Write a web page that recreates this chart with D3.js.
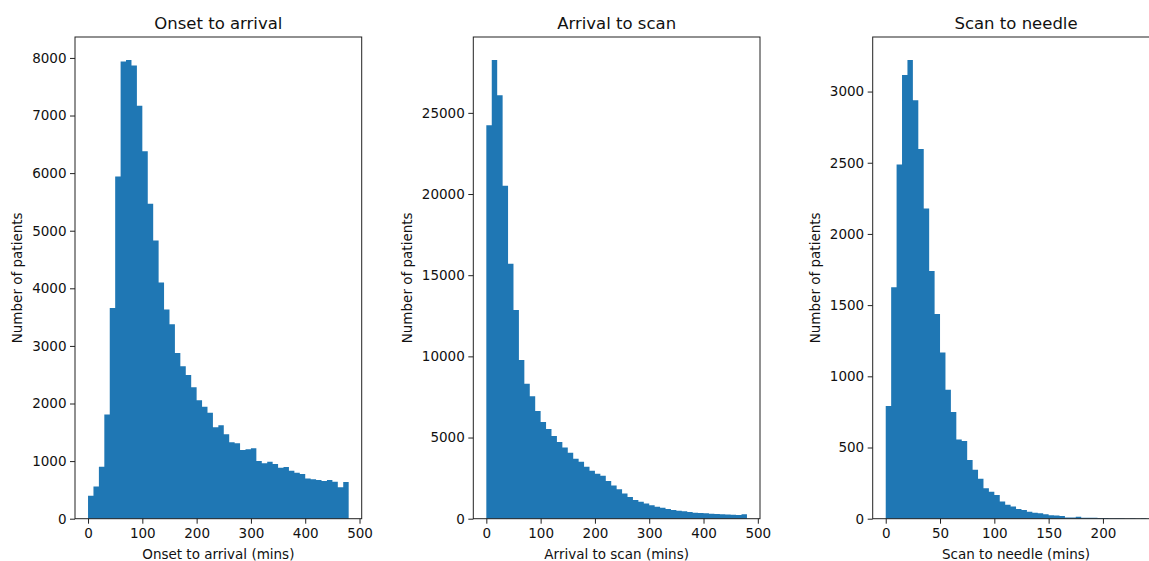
<!DOCTYPE html>
<html lang="en">
<head>
<meta charset="utf-8">
<title>Stroke pathway times</title>
<script src="https://cdn.jsdelivr.net/npm/d3@7"></script>
<style>
  body { margin: 0; background: #fff; }
  svg { display: block; overflow: hidden; }
  text { font-family: "DejaVu Sans", sans-serif; fill: #111; }
  .tick line { stroke: #222; }
  .tick text { font-size: 13.5px; fill: #111; }
  .frame { fill: none; stroke: #222; stroke-width: 1; }
</style>
</head>
<body>
<div id="chart"></div>
<script>
// histogram counts (48 bins each)
var onsetCounts = [400, 560, 900, 1810, 3660, 5940, 7940, 7965, 7870, 7170,
  6380, 5470, 4830, 4100, 3630, 3375, 2877, 2645, 2495, 2281,
  2055, 1945, 1840, 1586, 1621, 1465, 1326, 1309, 1192, 1204,
  1221, 1001, 961, 990, 949, 886, 897, 834, 799, 776,
  700, 683, 671, 654, 671, 643, 544, 637];
var arrivalCounts = [24240, 28260, 26090, 20510, 15700, 12850, 9770, 8320, 7540, 6630,
  5955, 5520, 5090, 4720, 4390, 4070, 3700, 3510, 3200, 2960,
  2770, 2640, 2330, 2040, 1815, 1560, 1340, 1150, 1047, 935,
  830, 730, 678, 590, 534, 493, 452, 411, 370, 349,
  329, 308, 287, 267, 262, 246, 226, 267];
var scanCounts = [791, 1625, 2487, 3117, 3222, 2939, 2597, 2178, 1740, 1437,
  1167, 906, 749, 556, 545, 413, 343, 280, 214, 189,
  166, 121, 98, 86, 69, 61, 48, 41, 38, 32,
  25, 22, 19, 8, 8, 14, 7, 6, 6, 5,
  5, 4, 3, 3, 2, 3, 2, 3];

var binWidths = [10, 10, 5]; // minutes per bin
var titles = ["Onset to arrival", "Arrival to scan", "Scan to needle"];
var xLabels = ["Onset to arrival (mins)", "Arrival to scan (mins)", "Scan to needle (mins)"];
var yLabel = "Number of patients";
var xTicks = [[0, 100, 200, 300, 400, 500], [0, 100, 200, 300, 400, 500], [0, 50, 100, 150, 200]];
var yTicks = [[0, 1000, 2000, 3000, 4000, 5000, 6000, 7000, 8000],
  [0, 5000, 10000, 15000, 20000, 25000],
  [0, 500, 1000, 1500, 2000, 2500, 3000]];

var width = 1149, height = 561;
var panelLeft = [75, 473.3, 872.7],
    panelW = 286.7,
    panelTop = 37,
    panelBottom = 518.7,
    panelH = panelBottom - panelTop;
var yLabelX = [17, 407, 815];

var svg = d3.select("#chart")
  .append("svg")
  .attr("width", width)
  .attr("height", height);

var allCounts = [onsetCounts, arrivalCounts, scanCounts];

allCounts.forEach(function(counts, p) {
  var bw = binWidths[p];
  var xmax = counts.length * bw;
  // step points: one per bin edge, last one closes the final bin
  var steps = counts.map(function(c, i) { return {x: i * bw, n: c}; });
  steps.push({x: xmax, n: counts[counts.length - 1]});
  var pad = xmax * 0.05;
  var ymax = d3.max(counts) * 1.05;

  var x = d3.scaleLinear().domain([-pad, xmax + pad]).range([0, panelW]);
  var y = d3.scaleLinear().domain([0, ymax]).range([panelH, 0]);

  var g = svg.append("g").attr("transform", "translate(" + panelLeft[p] + "," + panelTop + ")");

  var area = d3.area()
    .curve(d3.curveStepAfter)
    .x(function(d) { return x(d.x); })
    .y0(y(0))
    .y1(function(d) { return y(d.n); });

  g.append("path")
    .datum(steps)
    .attr("d", area)
    .attr("fill", "#1f77b4");

  var xa = g.append("g")
    .attr("transform", "translate(0," + panelH + ")")
    .call(d3.axisBottom(x).tickValues(xTicks[p]).tickSize(5).tickPadding(5).tickFormat(d3.format("d")));
  xa.select(".domain").remove();

  var ya = g.append("g")
    .call(d3.axisLeft(y).tickValues(yTicks[p]).tickSize(5).tickPadding(3.5).tickFormat(d3.format("d")));
  ya.select(".domain").remove();

  g.append("rect")
    .attr("class", "frame")
    .attr("width", panelW)
    .attr("height", panelH);

  g.append("text")
    .attr("x", panelW / 2)
    .attr("y", 29 - panelTop)
    .attr("text-anchor", "middle")
    .style("font-size", "16.5px")
    .text(titles[p]);

  g.append("text")
    .attr("x", panelW / 2)
    .attr("y", 559 - panelTop)
    .attr("text-anchor", "middle")
    .style("font-size", "13.5px")
    .text(xLabels[p]);

  svg.append("text")
    .attr("transform", "translate(" + yLabelX[p] + "," + ((panelTop + panelBottom) / 2) + ") rotate(-90)")
    .attr("text-anchor", "middle")
    .attr("dy", "0.35em")
    .style("font-size", "13.5px")
    .text(yLabel);
});
</script>
</body>
</html>
